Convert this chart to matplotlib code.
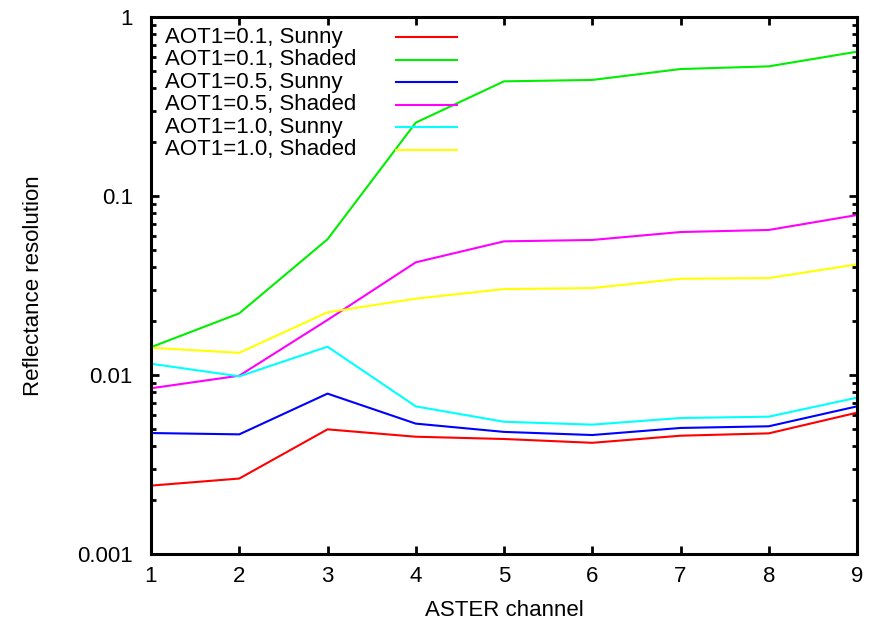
import matplotlib

matplotlib.use("Agg")
import matplotlib.pyplot as plt
from matplotlib.ticker import LogLocator, NullFormatter, FixedLocator

plt.rcParams["font.family"] = ["Liberation Sans", "DejaVu Sans"]

channels = [1, 2, 3, 4, 5, 6, 7, 8, 9]

aot01_sunny = [0.00241, 0.00264, 0.00497, 0.00452, 0.00439, 0.00418, 0.00458, 0.00472, 0.00616]
aot01_shaded = [0.0143, 0.0221, 0.0573, 0.257, 0.437, 0.445, 0.512, 0.530, 0.640]
aot05_sunny = [0.00474, 0.00466, 0.00787, 0.00535, 0.00481, 0.00462, 0.00506, 0.00517, 0.00668]
aot05_shaded = [0.00843, 0.00991, 0.0203, 0.0426, 0.0558, 0.0568, 0.0629, 0.0646, 0.0783]
aot10_sunny = [0.01156, 0.00983, 0.01439, 0.00668, 0.00548, 0.00528, 0.00575, 0.00585, 0.00747]
aot10_shaded = [0.0142, 0.0133, 0.0224, 0.0267, 0.0302, 0.0306, 0.0345, 0.0348, 0.0415]

series = [
    ("AOT1=0.1, Sunny", aot01_sunny, "#ff0000"),
    ("AOT1=0.1, Shaded", aot01_shaded, "#00ee00"),
    ("AOT1=0.5, Sunny", aot05_sunny, "#0000ff"),
    ("AOT1=0.5, Shaded", aot05_shaded, "#ff00ff"),
    ("AOT1=1.0, Sunny", aot10_sunny, "#00ffff"),
    ("AOT1=1.0, Shaded", aot10_shaded, "#ffff00"),
]

FONT = 16

fig = plt.figure(figsize=(8.73, 6.20), dpi=100)
ax = fig.add_axes([151 / 873, 66 / 620, 706 / 873, 537 / 620])

for label, values, color in series:
    ax.plot(channels, values, color=color, linewidth=1.5)

ax.set_yscale("log")
ax.set_xlim(1, 9)
ax.set_ylim(0.001, 1)
ax.xaxis.set_major_locator(FixedLocator(channels))
ax.yaxis.set_minor_locator(LogLocator(base=10, subs=range(2, 10), numticks=20))
ax.yaxis.set_minor_formatter(NullFormatter())
ax.set_yticks([0.001, 0.01, 0.1, 1])
ax.set_yticklabels(["0.001", "0.01", "0.1", "1"])

for spine in ax.spines.values():
    spine.set_linewidth(2.2)

ax.tick_params(which="major", direction="in", length=6, width=2, top=True, right=True,
               labelsize=FONT)
ax.tick_params(which="minor", direction="in", length=3.5, width=2, top=True, right=True)
ax.tick_params(axis="x", pad=9)
ax.tick_params(axis="y", pad=13)

ax.set_xlabel("ASTER channel", fontsize=FONT, labelpad=9)
ax.set_ylabel("Reflectance resolution", fontsize=FONT, labelpad=24)

# gnuplot-style key: text on the left, line sample on the right
for i, (label, values, color) in enumerate(series):
    y = 1 - (20 + 22.6 * i) / 537
    ax.text(14 / 706, y, label, transform=ax.transAxes, fontsize=FONT,
            va="center", ha="left")
    ax.plot([245 / 706, 306 / 706], [y, y], transform=ax.transAxes,
            color=color, linewidth=1.5, clip_on=False)

fig.savefig("out.png", dpi=100)
plt.close(fig)
